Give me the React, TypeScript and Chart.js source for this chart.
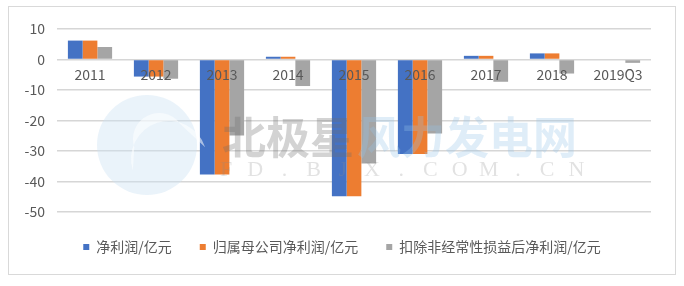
import React, { useEffect, useRef } from "react";
import { Chart, registerables } from "chart.js";

Chart.register(...registerables);

const categories = ["2011", "2012", "2013", "2014", "2015", "2016", "2017", "2018", "2019Q3"];
const netProfit = [6.2, -5.6, -37.7, 0.9, -44.8, -31.0, 1.2, 2.0, null];
const parentNetProfit = [6.2, -5.6, -37.7, 0.9, -44.8, -31.0, 1.2, 2.0, null];
const deductedNetProfit = [4.1, -6.3, -24.9, -8.7, -34.1, -24.3, -7.3, -4.6, -1.1];
const seriesNames = ["净利润/亿元", "归属母公司净利润/亿元", "扣除非经常性损益后净利润/亿元"];
const seriesColors = ["#4472C4", "#ED7D31", "#A5A5A5"];
const yMin = -50;
const yMax = 10;
const yStep = 10;

const FONT = "'Noto Sans CJK SC', 'Noto Sans', sans-serif";
const TEXT = "#595959";

const watermark = {
  id: "watermark",
  afterDatasetsDraw(chart: any) {
    const ctx = chart.ctx as CanvasRenderingContext2D;
    ctx.save();
    // logo disc
    ctx.fillStyle = "rgba(205,226,244,0.42)";
    ctx.beginPath();
    ctx.arc(138, 138, 50, 0, Math.PI * 2);
    ctx.fill();
    ctx.fillStyle = "rgba(255,255,255,0.55)";
    ctx.beginPath();
    ctx.arc(160, 152, 38, Math.PI * 0.9, Math.PI * 1.9);
    ctx.arc(150, 132, 26, Math.PI * 1.8, Math.PI * 0.9, true);
    ctx.fill();
    ctx.font = `bold 44px ${FONT}`;
    ctx.textBaseline = "middle";
    ctx.textAlign = "left";
    ctx.fillStyle = "rgba(110,110,110,0.3)";
    ctx.fillText("北极星", 213, 130);
    ctx.fillStyle = "rgba(150,195,232,0.3)";
    ctx.fillText("风力发电网", 348, 130);
    ctx.font = "22px 'Liberation Serif', serif";
    ctx.textAlign = "center";
    ctx.fillStyle = "rgba(140,140,140,0.25)";
    const chars = "FD.BJX.COM.CN".split("");
    chars.forEach((c, i) => ctx.fillText(c, 217 + i * 29.2, 163));
    ctx.restore();
  },
};

export default function App() {
  const ref = useRef<HTMLCanvasElement | null>(null);

  useEffect(() => {
    if (!ref.current) return;
    const chart = new Chart(ref.current, {
      type: "bar",
      data: {
        labels: categories,
        datasets: [
          { label: seriesNames[0], data: netProfit, backgroundColor: seriesColors[0], borderWidth: 0 },
          { label: seriesNames[1], data: parentNetProfit, backgroundColor: seriesColors[1], borderWidth: 0 },
          { label: seriesNames[2], data: deductedNetProfit, backgroundColor: seriesColors[2], borderWidth: 0 },
        ],
      },
      options: {
        animation: false,
        responsive: false,
        maintainAspectRatio: false,
        devicePixelRatio: 1,
        layout: { padding: { top: 22, right: 0, bottom: 10, left: 0 } },
        datasets: { bar: { categoryPercentage: 0.67, barPercentage: 1.0 } },
        plugins: {
          tooltip: { enabled: false },
          legend: {
            position: "bottom",
            labels: {
              boxWidth: 6,
              boxHeight: 6,
              padding: 28,
              color: TEXT,
              font: { family: FONT, size: 14 },
            },
          },
        },
        scales: {
          x: {
            position: { y: 0 } as any,
            grid: { display: false, drawTicks: false },
            border: { display: false },
            ticks: { z: 1, color: TEXT, font: { family: FONT, size: 14 }, padding: 7, maxRotation: 0 },
            afterFit: (s: any) => {
              s.height = 19;
            },
          },
          y: {
            min: yMin,
            max: yMax,
            grid: { color: "#d6d6d6", lineWidth: 1.5, drawTicks: false },
            border: { display: false },
            ticks: { stepSize: yStep, color: TEXT, font: { family: FONT, size: 14 }, padding: 12 },
            afterFit: (s: any) => {
              s.width = 48;
            },
          },
          y2: {
            position: "right",
            display: true,
            grid: { display: false, drawTicks: false },
            border: { display: false },
            ticks: { display: false },
            afterFit: (s: any) => {
              s.width = 24;
            },
          },
        },
      },
      plugins: [watermark],
    });
    return () => chart.destroy();
  }, []);

  return (
    <div
      style={{
        position: "absolute",
        left: 8,
        top: 6,
        width: 668,
        height: 269,
        boxSizing: "border-box",
        border: "1px solid #d9d9d9",
        background: "#fff",
      }}
    >
      <canvas ref={ref} width={666} height={267} style={{ display: "block", width: 666, height: 267 }} />
    </div>
  );
}
